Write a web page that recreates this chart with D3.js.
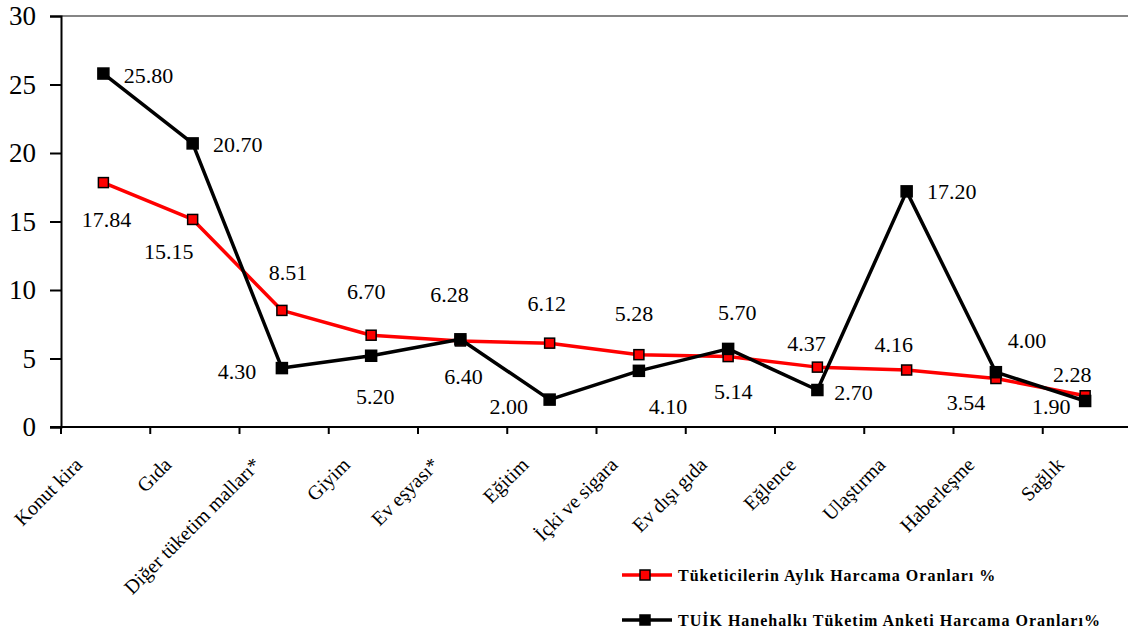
<!DOCTYPE html>
<html>
<head>
<meta charset="utf-8">
<script src="https://cdn.jsdelivr.net/npm/d3@7"></script>
<style>
  html, body { margin: 0; padding: 0; background: #fff; }
  svg { display: block; }
  text { font-family: "Liberation Serif", "Times New Roman", serif; }
</style>
</head>
<body>
<svg id="chart" width="1128" height="634"></svg>
<script>
// ---- Data ----
const categories = ["Konut kira", "Gıda", "Diğer tüketim malları*", "Giyim", "Ev eşyası*", "Eğitim",
  "İçki ve sigara", "Ev dışı gıda", "Eğlence", "Ulaştırma", "Haberleşme", "Sağlık"];
const consumerValues = [17.84, 15.15, 8.51, 6.70, 6.28, 6.12, 5.28, 5.14, 4.37, 4.16, 3.54, 2.28];
const tuikValues = [25.80, 20.70, 4.30, 5.20, 6.40, 2.00, 4.10, 5.70, 2.70, 17.20, 4.00, 1.90];
const yTicks = [0, 5, 10, 15, 20, 25, 30];
const seriesNames = ["Tüketicilerin Aylık Harcama Oranları %", "TUİK Hanehalkı Tüketim Anketi Harcama Oranları%"];

// ---- Layout (label placement offsets, px relative to the point) ----
const consumerLabelOffsets = [[3, 44], [-24, 40], [6, -30], [-5, -36], [-11, -39], [-3, -32],
  [-5, -34], [5, 42], [-11, -16], [-13, -18], [-30, 31], [-13, -14]];
const tuikLabelOffsets = [[45, 9], [45, 9], [-45, 11], [4, 48], [3, 45], [-41, 14],
  [29, 43], [9, -29], [36, 10], [45, 8], [31, -24], [-34, 13]];

const svg = d3.select("#chart");
const plotLeft = 61, plotRight = 1132, plotTop = 16, plotBottom = 427;

const x = d3.scaleBand().domain(categories).range([plotLeft, plotRight]).padding(0);
const cx = c => x(c) + x.bandwidth() * 0.475;
const y = d3.scaleLinear().domain([0, 30]).range([plotBottom, plotTop]);

// top frame line
svg.append("line")
  .attr("x1", plotLeft).attr("x2", 1128).attr("y1", y(30)).attr("y2", y(30))
  .attr("stroke", "#858585").attr("stroke-width", 2);

// y axis
const yAxis = svg.append("g").attr("transform", `translate(${plotLeft},0)`)
  .call(d3.axisLeft(y).tickValues(yTicks).tickSize(11).tickPadding(14).tickFormat(d3.format("d")));
yAxis.select(".domain").attr("stroke", "#000").attr("stroke-width", 2);
yAxis.selectAll(".tick line").attr("stroke", "#000").attr("stroke-width", 2);
yAxis.selectAll(".tick text").attr("font-family", "Liberation Serif, Times New Roman, serif")
  .attr("font-size", 27).attr("fill", "#000");

// x axis
const xAxisG = svg.append("g");
xAxisG.append("line").attr("x1", 50).attr("x2", 1128).attr("y1", plotBottom).attr("y2", plotBottom)
  .attr("stroke", "#000").attr("stroke-width", 2);
xAxisG.selectAll("line.xt").data(categories).join("line").attr("class", "xt")
  .attr("x1", d => x(d)).attr("x2", d => x(d)).attr("y1", plotBottom).attr("y2", plotBottom + 7)
  .attr("stroke", "#000").attr("stroke-width", 2);
xAxisG.selectAll("text.xl").data(categories).join("text").attr("class", "xl")
  .attr("transform", d => `translate(${cx(d) - 20},${plotBottom + 39}) rotate(-45)`)
  .attr("text-anchor", "end")
  .attr("font-size", 20).attr("fill", "#000")
  .text(d => d);

// lines
const lineGen = vals => d3.line().x((d, i) => cx(categories[i])).y(d => y(d))(vals);

function drawSeries(vals, color, markerFill, markerSize, offsets) {
  svg.append("path").attr("d", lineGen(vals)).attr("fill", "none")
    .attr("stroke", color).attr("stroke-width", 3.5).attr("stroke-linejoin", "round");
  svg.selectAll(null).data(vals).join("rect")
    .attr("x", (d, i) => cx(categories[i]) - markerSize / 2)
    .attr("y", d => y(d) - markerSize / 2)
    .attr("width", markerSize).attr("height", markerSize)
    .attr("fill", markerFill).attr("stroke", "#000").attr("stroke-width", 1.5);
  svg.selectAll(null).data(vals).join("text")
    .attr("x", (d, i) => cx(categories[i]) + offsets[i][0])
    .attr("y", (d, i) => y(d) + offsets[i][1])
    .attr("text-anchor", "middle").attr("font-size", 22).attr("fill", "#000")
    .text(d => d.toFixed(2));
}
drawSeries(consumerValues, "#ff0000", "#ff0000", 10, consumerLabelOffsets);
drawSeries(tuikValues, "#000000", "#000000", 11, tuikLabelOffsets);

// legend
const legend = svg.append("g");
const legendRows = [
  { name: seriesNames[0], color: "#ff0000", y: 575 },
  { name: seriesNames[1], color: "#000000", y: 620 }
];
legendRows.forEach(r => {
  legend.append("line").attr("x1", 622).attr("x2", 672).attr("y1", r.y).attr("y2", r.y)
    .attr("stroke", r.color).attr("stroke-width", 3.5);
  legend.append("rect").attr("x", 645 - 5).attr("y", r.y - 5).attr("width", 10).attr("height", 10)
    .attr("fill", r.color).attr("stroke", "#000").attr("stroke-width", 1.5);
  legend.append("text").attr("x", 678).attr("y", r.y + 6)
    .attr("font-family", "Liberation Serif, Times New Roman, serif")
    .attr("font-size", 16).attr("font-weight", "bold").attr("letter-spacing", 1.0)
    .attr("fill", "#000").text(r.name);
});
</script>
</body>
</html>
